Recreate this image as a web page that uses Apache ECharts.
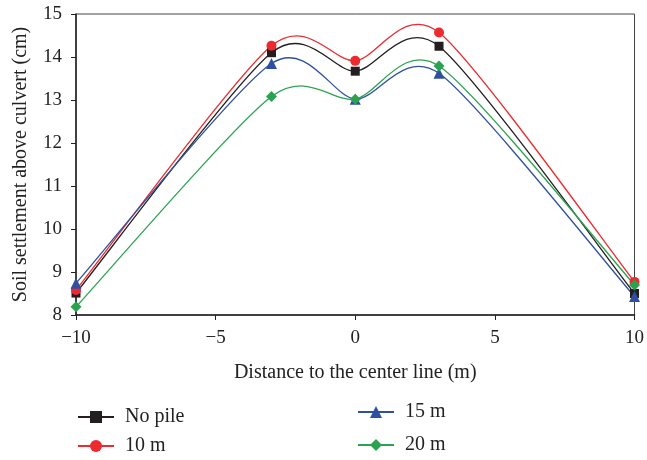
<!DOCTYPE html>
<html>
<head>
<meta charset="utf-8">
<script src="https://cdn.jsdelivr.net/npm/echarts@6/dist/echarts.min.js"></script>
<style>
  html, body { margin: 0; padding: 0; background: #fff; }
  #chart { width: 647px; height: 460px; }
</style>
</head>
<body>
<div id="chart"></div>
<script>
// distance to center line (m)
const distances = [-10, -3, 0, 3, 10]
// settlement (cm)
const noPile = [8.51, 14.1, 13.67, 14.25, 8.5]
const pile10 = [8.58, 14.26, 13.91, 14.57, 8.77]
const pile15 = [8.74, 13.85, 13.02, 13.62, 8.43]
const pile20 = [8.19, 13.08, 13.02, 13.79, 8.7]

const font = 'Liberation Serif'
const fs = 19
// spline tension (control arm = k * neighbour chord)
const k = 0.13

const pairs = (ys) => distances.map((x, i) => [x, ys[i]])

// markers + legend entry
const makeSeries = (name, ys, color, symbol, size) => ({
  name: name,
  type: 'line',
  z: 3,
  data: pairs(ys),
  symbol: symbol,
  symbolSize: size,
  lineStyle: { color: color, width: 1.3, opacity: 0 },
  itemStyle: { color: color }
})

// smooth curve through the points, one bezier per segment
const makeCurve = (ys, color) => {
  const pts = pairs(ys)
  return {
    type: 'custom',
    z: 2,
    silent: true,
    data: pts,
    encode: { x: 0, y: 1 },
    renderItem: (params, api) => {
      const i = params.dataIndex
      if (i >= pts.length - 1) return
      const P = pts.map((p) => api.coord(p))
      const arm = (j) => {
        const a = P[Math.max(j - 1, 0)]
        const b = P[Math.min(j + 1, P.length - 1)]
        return [(b[0] - a[0]) * k, (b[1] - a[1]) * k]
      }
      const a0 = arm(i)
      const a1 = arm(i + 1)
      return {
        type: 'bezierCurve',
        shape: {
          x1: P[i][0], y1: P[i][1],
          x2: P[i + 1][0], y2: P[i + 1][1],
          cpx1: P[i][0] + a0[0], cpy1: P[i][1] + a0[1],
          cpx2: P[i + 1][0] - a1[0], cpy2: P[i + 1][1] - a1[1]
        },
        style: { stroke: color, fill: null, lineWidth: 1.3 }
      }
    }
  }
}

const legendBase = {
  orient: 'vertical',
  padding: 0,
  height: 70,
  itemWidth: 36,
  itemHeight: 15,
  lineStyle: { opacity: 1 },
  textStyle: { fontFamily: font, fontSize: 20, color: '#222', padding: [0, 0, 0, 6] }
}

const chart = echarts.init(document.getElementById('chart'))

chart.setOption({
  animation: false,
  textStyle: { fontFamily: font },
  grid: {
    left: 76,
    right: 9,
    top: 14,
    bottom: 145,
    show: true,
    borderColor: '#444',
    borderWidth: 1
  },
  legend: [
    Object.assign({}, legendBase, {
      left: 77,
      top: 407,
      itemGap: 9,
      data: ['No pile', '10 m']
    }),
    Object.assign({}, legendBase, {
      left: 357,
      top: 402,
      itemGap: 13,
      data: ['15 m', '20 m']
    })
  ],
  xAxis: {
    type: 'value',
    min: -10,
    max: 10,
    interval: 5,
    name: 'Distance to the center line (m)',
    nameLocation: 'middle',
    nameGap: 48,
    nameTextStyle: { fontFamily: font, fontSize: 20, color: '#222' },
    axisLine: { onZero: false, lineStyle: { color: '#222', width: 1.5 } },
    axisTick: { show: true, inside: false, length: 5, lineStyle: { color: '#222' } },
    axisLabel: {
      fontFamily: font,
      fontSize: fs,
      color: '#222',
      margin: 14,
      formatter: (v) => String(v).replace('-', '\u2212')
    },
    splitLine: { show: false }
  },
  yAxis: {
    type: 'value',
    min: 8,
    max: 15,
    interval: 1,
    name: 'Soil settlement above culvert (cm)',
    nameLocation: 'middle',
    nameGap: 45,
    nameRotate: 90,
    nameTextStyle: { fontFamily: font, fontSize: 20, color: '#222' },
    axisLine: { show: true, onZero: false, lineStyle: { color: '#222', width: 1.5 } },
    axisTick: { show: true, inside: false, length: 5, lineStyle: { color: '#222' } },
    axisLabel: { fontFamily: font, fontSize: fs, color: '#222', margin: 14 },
    splitLine: { show: false }
  },
  series: [
    makeCurve(noPile, '#231f20'),
    makeCurve(pile10, '#ec2a2f'),
    makeCurve(pile15, '#2f4f9f'),
    makeCurve(pile20, '#2ba24f'),
    makeSeries('No pile', noPile, '#231f20', 'rect', 9),
    makeSeries('10 m', pile10, '#ec2a2f', 'circle', 10),
    makeSeries('15 m', pile15, '#2f4f9f', 'triangle', 11),
    makeSeries('20 m', pile20, '#2ba24f', 'diamond', 11)
  ]
})

window.addEventListener('resize', () => {
  chart.resize()
})
</script>
</body>
</html>
